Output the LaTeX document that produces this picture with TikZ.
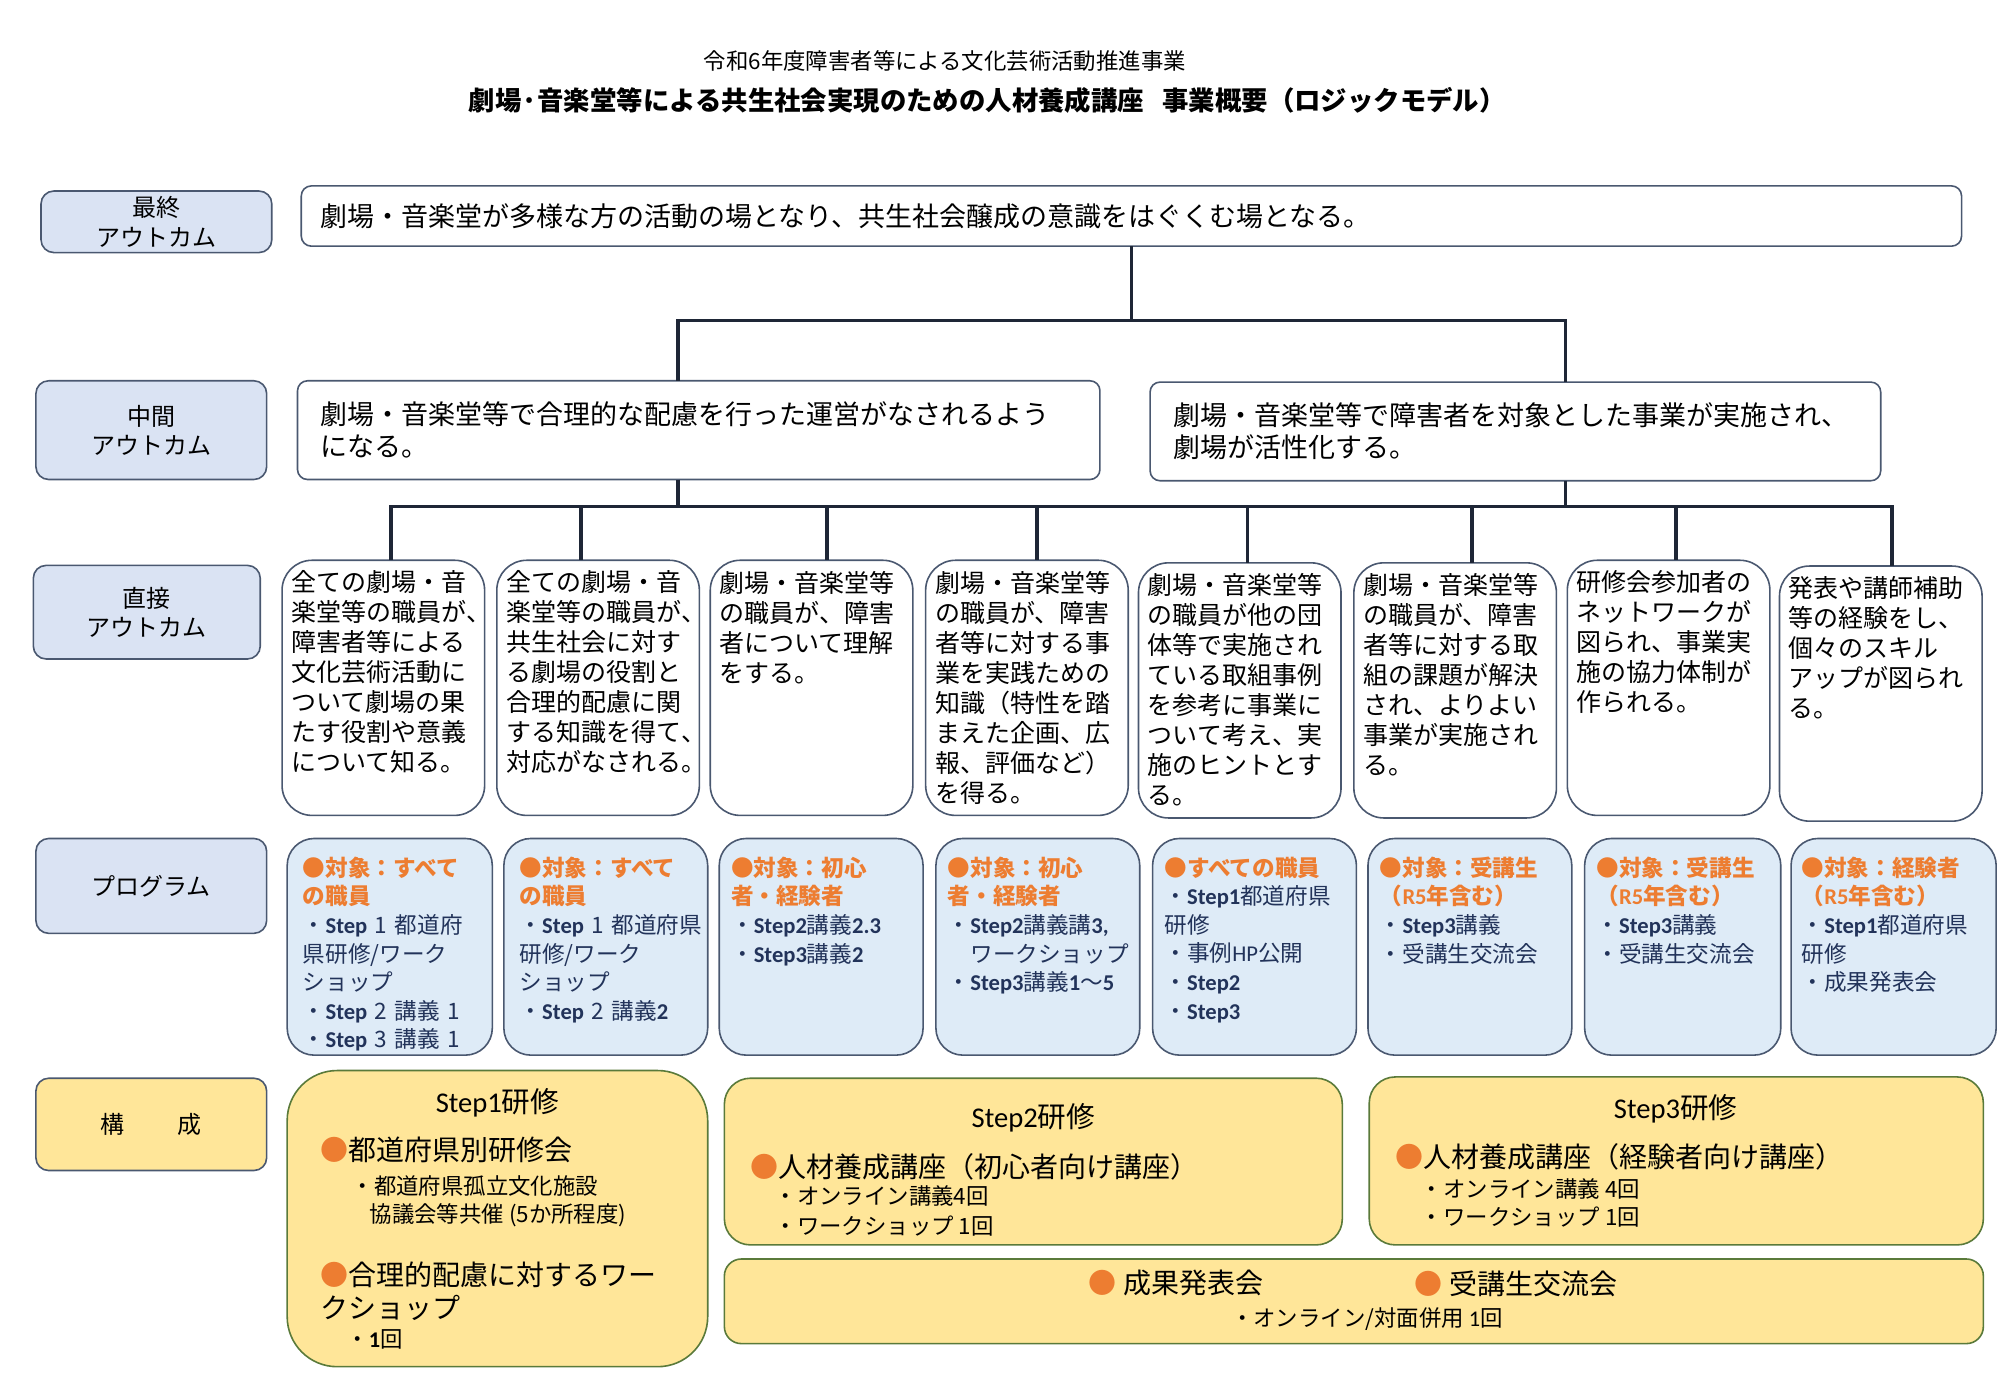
\documentclass[tikz,border=0pt]{standalone}
\usepackage{fontspec}
\setmainfont{Noto Sans CJK JP}
\newfontfamily\calib{Carlito}
\usetikzlibrary{calc}

\definecolor{labblue}{HTML}{DAE3F3}
\definecolor{prgblue}{HTML}{DEEBF7}
\definecolor{yel}{HTML}{FFE699}
\definecolor{orng}{HTML}{ED7D31}
\definecolor{navy}{HTML}{22335A}
\definecolor{rimc}{HTML}{4A5870}
\definecolor{grnc}{HTML}{5A7A3A}
\definecolor{linec}{HTML}{1E2636}

\newcommand{\pxu}{0.641pt}
\newcommand{\stp}[1]{{\calib\bfseries #1}}
\newcommand{\hw}[1]{\makebox[0.5em][l]{#1}}
\newcommand{\hdr}[1]{{\color{orng}\bfseries #1}}
\newcommand{\obul}{{\color{orng}●}}

\tikzset{
  conn/.style={draw=linec, line width=1.9pt},
  labbox/.style={draw=rimc, line width=0.8pt, fill=labblue, rounded corners=6.4pt,
    minimum width=180*\pxu, inner sep=0pt, outer sep=0pt, align=center,
    font=\fontsize{12}{14.7}\selectfont},
  outbox/.style={draw=rimc, line width=0.8pt, fill=white, rounded corners=5pt,
    inner xsep=11.5pt, inner ysep=0pt, outer sep=0pt, align=left,
    font=\fontsize{13.5}{16}\selectfont},
  dbox/.style={draw=rimc, line width=0.8pt, fill=white, rounded corners=15pt,
    minimum width=158*\pxu, minimum height=199*\pxu, inner sep=0pt, outer sep=0pt},
  dtxt/.style={anchor=north west, inner sep=0pt, text width=96pt, align=left,
    font=\fontsize{12.5}{15}\selectfont},
  pbox/.style={draw=rimc, line width=0.8pt, fill=prgblue, rounded corners=13.5pt,
    minimum width=159*\pxu, minimum height=169*\pxu, inner sep=0pt, outer sep=0pt},
  ptxt/.style={anchor=north west, inner sep=0pt, text width=100pt, align=left,
    text=navy, font=\fontsize{11.3}{14.3}\selectfont},
  cbox/.style={draw=grnc, line width=0.8pt, fill=yel, inner sep=0pt, outer sep=0pt},
  chead/.style={inner sep=0pt, font=\fontsize{14.3}{16}\selectfont},
  citem/.style={anchor=west, inner sep=0pt, font=\fontsize{14}{16}\selectfont},
  csub/.style={anchor=west, inner sep=0pt, font=\fontsize{11.2}{13}\selectfont},
}

\begin{document}
\begin{tikzpicture}[x=0.641pt, y=-0.641pt]
    \useasboundingbox (0,0) rectangle (1560,1080.4);

    % title
    \node[font=\fontsize{11.2}{13}\selectfont] (ttl1) at (737,48) {令和6年度障害者等による文化芸術活動推進事業};
    \node[font=\fontsize{13.2}{15}\selectfont\bfseries] (ttl2) at (770,78) {劇場·音楽堂等による共生社会実現のための人材養成講座\hspace{0.7em}事業概要（ロジックモデル）};

    % row labels
    \node[labbox, minimum height=48*\pxu] (lfin) at (122,173) {最終\\アウトカム};
    \node[labbox, minimum height=77*\pxu] (lmid) at (118,335.5) {中間\\アウトカム};
    \node[labbox, minimum width=177*\pxu, minimum height=73*\pxu] (ldir) at (114.5,477.5) {直接\\アウトカム};
    \node[labbox, minimum height=74*\pxu] (lprg) at (118,691) {プログラム};
    \node[labbox, fill=yel, minimum height=72*\pxu] (lcmp) at (118,877) {構\hspace{2.2em}成};

    % final and middle outcomes
    \node[outbox, inner xsep=9.6pt, text width=810.9pt, minimum height=47*\pxu] (fin) at (882.5,168.5) {劇場・音楽堂が多様な方の活動の場となり、共生社会醸成の意識をはぐくむ場となる。};
    \node[outbox, text width=378.2pt, minimum height=77*\pxu] (m1) at (545,335.5) {劇場・音楽堂等で合理的な配慮を行った運営がなされるよう\\になる。};
    \node[outbox, text width=342.3pt, minimum height=77*\pxu] (m2) at (1182,336.5) {劇場・音楽堂等で障害者を対象とした事業が実施され、\\劇場が活性化する。};

    % direct outcomes
    \node[dbox] (d1) at (299,536.5) {};
    \node[dbox] (d2) at (466.5,536.5) {};
    \node[dbox] (d3) at (633,536.5) {};
    \node[dbox] (d4) at (801,536.5) {};
    \node[dbox] (d5) at (967,538.5) {};
    \node[dbox] (d6) at (1135,538.5) {};
    \node[dbox] (d7) at (1301.5,536.5) {};
    \node[dbox] (d8) at (1467,541) {};
    \node[dtxt] (d1t) at ($(d1.north west)+(7,8)$) {全ての劇場・音\\楽堂等の職員が\hw{、}\\障害者等による\\文化芸術活動に\\ついて劇場の果\\たす役割や意義\\について知る。};
    \node[dtxt] (d2t) at ($(d2.north west)+(7,8)$) {全ての劇場・音\\楽堂等の職員が\hw{、}\\共生社会に対す\\る劇場の役割と\\合理的配慮に関\\する知識を得て\hw{、}\\対応がなされる\hw{。}};
    \node[dtxt] (d3t) at ($(d3.north west)+(7,8)$) {劇場・音楽堂等\\の職員が、障害\\者について理解\\をする。};
    \node[dtxt] (d4t) at ($(d4.north west)+(7,8)$) {劇場・音楽堂等\\の職員が、障害\\者等に対する事\\業を実践ための\\知識（特性を踏\\まえた企画、広\\報、評価など）\\を得る。};
    \node[dtxt] (d5t) at ($(d5.north west)+(7,8)$) {劇場・音楽堂等\\の職員が他の団\\体等で実施され\\ている取組事例\\を参考に事業に\\ついて考え、実\\施のヒントとす\\る。};
    \node[dtxt] (d6t) at ($(d6.north west)+(7,8)$) {劇場・音楽堂等\\の職員が、障害\\者等に対する取\\組の課題が解決\\され、よりよい\\事業が実施され\\る。};
    \node[dtxt] (d7t) at ($(d7.north west)+(7,8)$) {研修会参加者の\\ネットワークが\\図られ、事業実\\施の協力体制が\\作られる。};
    \node[dtxt] (d8t) at ($(d8.north west)+(7,8)$) {発表や講師補助\\等の経験をし、\\個々のスキル\\アップが図られ\\る。};

    % connectors
    \coordinate (jl) at (529,250);
    \coordinate (jr) at (1221,250);
    \coordinate (kl) at (529,395);
    \coordinate (kr) at (1221,395);
    \foreach \i/\x in {1/305,2/453,3/645,4/809,5/973,6/1148,7/1307,8/1476}
        \coordinate (t\i) at (\x,395);
    \draw[conn] (fin.south) -- (fin.south |- jl);
    \draw[conn] (jl |- m1.north) -- (jl) -- (jr) -- (jr |- m2.north);
    \draw[conn] (kl |- m1.south) -- (kl);
    \draw[conn] (kr |- m2.south) -- (kr);
    \draw[conn] (t1 |- d1.north) -- (t1) -- (t8) -- (t8 |- d8.north);
    \foreach \i in {2,...,7}
        \draw[conn] (t\i) -- (t\i |- d\i.north);

    % programs
    \node[pbox, minimum width=160*\pxu] (p1) at (304,738.5) {};
    \node[pbox] (p2) at (472.5,738.5) {};
    \node[pbox] (p3) at (640.5,738.5) {};
    \node[pbox] (p4) at (809.5,738.5) {};
    \node[pbox] (p5) at (978.5,738.5) {};
    \node[pbox] (p6) at (1146.5,738.5) {};
    \node[pbox, minimum width=153*\pxu] (p7) at (1312.5,738.5) {};
    \node[pbox, minimum width=160*\pxu] (p8) at (1477,738.5) {};
    \node[ptxt] (p1t) at ($(p1.north west)+(12,14)$) {\hdr{●対象：すべて}\\\hdr{の職員}\\・\stp{Step} 1 都道府\\県研修/ワーク\\ショップ\\・\stp{Step} 2 講義 1\\・\stp{Step} 3 講義 1};
    \node[ptxt] (p2t) at ($(p2.north west)+(12,14)$) {\hdr{●対象：すべて}\\\hdr{の職員}\\・\stp{Step} 1 都道府県\\研修/ワーク\\ショップ\\・\stp{Step} 2 講義\stp{2}};
    \node[ptxt] (p3t) at ($(p3.north west)+(9,14)$) {\hdr{●対象：初心}\\\hdr{者・経験者}\\・\stp{Step2}講義\stp{2.3}\\・\stp{Step3}講義\stp{2}};
    \node[ptxt] (p4t) at ($(p4.north west)+(9,14)$) {\hdr{●対象：初心}\\\hdr{者・経験者}\\・\stp{Step2}講義講\stp{3,}\\　ワークショップ\\・\stp{Step3}講義\stp{1}～\stp{5}};
    \node[ptxt] (p5t) at ($(p5.north west)+(9,14)$) {\hdr{●すべての職員}\\・\stp{Step1}都道府県\\研修\\・事例{\calib HP}公開\\・\stp{Step2}\\・\stp{Step3}};
    \node[ptxt] (p6t) at ($(p6.north west)+(9,14)$) {\hdr{●対象：受講生}\\\hdr{（{\calib R5}年含む）}\\・\stp{Step3}講義\\・受講生交流会};
    \node[ptxt] (p7t) at ($(p7.north west)+(9,14)$) {\hdr{●対象：受講生}\\\hdr{（{\calib R5}年含む）}\\・\stp{Step3}講義\\・受講生交流会};
    \node[ptxt] (p8t) at ($(p8.north west)+(8,14)$) {\hdr{●対象：経験者}\\\hdr{（{\calib R5}年含む）}\\・\stp{Step1}都道府県\\研修\\・成果発表会};

    % composition
    \node[cbox, rounded corners=25pt, minimum width=328*\pxu, minimum height=231*\pxu] (c1) at (388,950.5) {};
    \node[cbox, rounded corners=13pt, minimum width=482*\pxu, minimum height=130*\pxu] (c2) at (806,906) {};
    \node[cbox, rounded corners=13pt, minimum width=479*\pxu, minimum height=131*\pxu] (c3) at (1307.5,905.5) {};
    \node[cbox, rounded corners=8.5pt, minimum width=982*\pxu, minimum height=66*\pxu] (c4) at (1056,1015) {};

    \node[chead] (c1h) at (388,860) {{\calib Step1}研修};
    \node[citem] (c1a) at (250,897) {\obul 都道府県別研修会};
    \node[csub] (c1b) at (274,925) {・都道府県孤立文化施設};
    \node[csub] (c1c) at (288,948) {協議会等共催 (5か所程度)};
    \node[citem] (c1d) at (250,994) {\obul 合理的配慮に対するワー};
    \node[citem] (c1e) at (250,1020) {クショップ};
    \node[csub] (c1f) at (270,1045) {・\stp{1}回};

    \node[chead] (c2h) at (806,872) {{\calib Step2}研修};
    \node[citem] (c2a) at (585,910) {\obul 人材養成講座（初心者向け講座）};
    \node[csub] (c2b) at (604,933) {・オンライン講義4回};
    \node[csub] (c2c) at (604,956) {・ワークショップ 1回};

    \node[chead] (c3h) at (1307,865) {{\calib Step3}研修};
    \node[citem] (c3a) at (1088,902) {\obul 人材養成講座（経験者向け講座）};
    \node[csub] (c3b) at (1108,927) {・オンライン講義 4回};
    \node[csub] (c3c) at (1108,949) {・ワークショップ 1回};

    \node[citem] (c4a) at (849,1001) {\obul\hspace{0.25em}成果発表会};
    \node[citem] (c4b) at (1103,1001) {\obul\hspace{0.25em}受講生交流会};
    \node[csub] (c4c) at (960,1029) {・オンライン/対面併用 {\calib 1}回};
\end{tikzpicture}
\end{document}
